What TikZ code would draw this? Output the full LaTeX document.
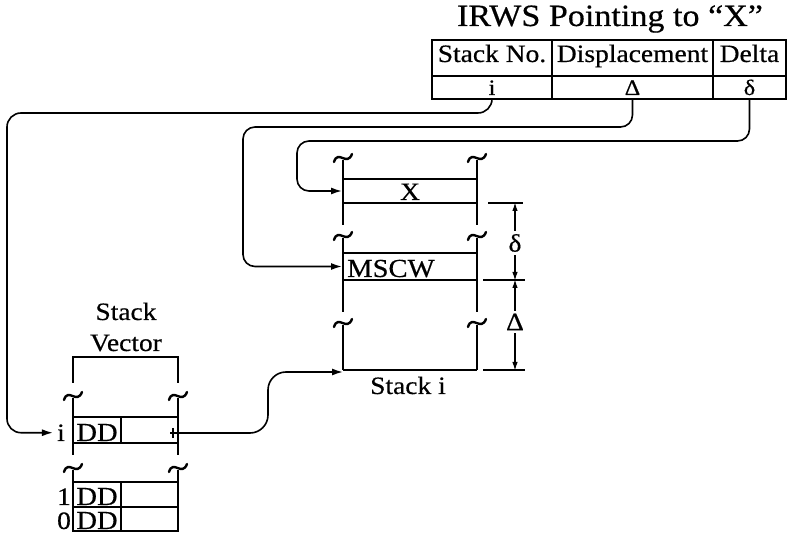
\documentclass[tikz,border=0pt]{standalone}
\usepackage{fontspec}
\setmainfont{Liberation Serif}[FakeStretch=1.1,FakeBold=0.5]
\usetikzlibrary{arrows.meta}
\begin{document}
\begin{tikzpicture}[x=1pt,y=-1pt,
  every node/.style={font=\fontsize{25}{29}\selectfont, inner sep=0pt},
  wall/.style={line width=2pt},
  cell/.style={draw, line width=2pt, inner sep=0pt},
  conn/.style={line width=1.6pt, rounded corners=12pt, -{Latex[length=11pt,width=7pt]}},
  dim/.style={line width=1.5pt, -{Latex[length=9pt,width=5.5pt]}},
  tld/.pic={\draw[line width=2.4pt, line cap=round] (-9,4) .. controls (-5,-9) and (4,9) .. (9,-4);}
]
\useasboundingbox (0,0) rectangle (788,534);

% ---------- IRWS table ----------
\node[font=\fontsize{31}{36}\selectfont, anchor=base] (title) at (610,26) {IRWS Pointing to “X”};
\node[cell, minimum width=120pt, minimum height=36pt, text height=12pt, text depth=4pt] (h1) at (492,58) {Stack No.};
\node[cell, minimum width=161pt, minimum height=36pt, text height=12pt, text depth=4pt] (h2) at (632.5,58) {Displacement};
\node[cell, minimum width=73pt, minimum height=36pt, text height=12pt, text depth=4pt] (h3) at (749.5,58) {Delta};
\node[cell, font=\fontsize{22}{26}\selectfont, minimum width=120pt, minimum height=23pt, text height=15pt, text depth=0pt] (c1) at (492,87.5) {i};
\node[cell, font=\fontsize{22}{26}\selectfont, minimum width=161pt, minimum height=23pt, text height=15pt, text depth=0pt] (c2) at (632.5,87.5) {Δ};
\node[cell, font=\fontsize{22}{26}\selectfont, minimum width=73pt, minimum height=23pt, text height=15pt, text depth=0pt] (c3) at (749.5,87.5) {δ};

% ---------- Stack i ----------
\foreach \x in {343,477}{
  \pic at (\x,158) {tld};
  \draw[wall] (\x,160) -- (\x,225);
  \pic at (\x,236) {tld};
  \draw[wall] (\x,238) -- (\x,312);
  \pic at (\x,323) {tld};
  \draw[wall] (\x,325) -- (\x,370);
}
\node[cell, minimum width=134pt, minimum height=24pt, text height=18pt, text depth=0pt] (xrow) at (410,191) {X};
\node[cell, minimum width=134pt, minimum height=27pt] (mscw) at (410,266.5) {};
\node[anchor=base west, font=\fontsize{26}{30}\selectfont] (mtext) at (347,277) {MSCW};
\coordinate (sbl) at (343,372);
\coordinate (sbr) at (477,370);
\draw[wall] (343,370) -- (sbr);
\node[anchor=base] (stki) at (408,394) {Stack i};

% dimensions
\coordinate (e1) at (515,203);
\coordinate (e2) at (515,280);
\coordinate (e3) at (515,370);
\draw[line width=1.5pt] (488,203) -- (523,203);
\draw[line width=1.5pt] (483,280) -- (525,280);
\draw[line width=1.5pt] (483,370) -- (525,370);
\node[inner sep=3pt] (dl) at (515,243) {δ};
\node[inner sep=3pt] (DL) at (515,322) {Δ};
\draw[dim] (dl.north) -- ([yshift=1pt]e1);
\draw[dim] (dl.south) -- ([yshift=-1pt]e2);
\draw[dim] (DL.north) -- ([yshift=1pt]e2);
\draw[dim] (DL.south) -- ([yshift=-1pt]e3);

% ---------- Stack Vector ----------
\node[anchor=base] (svl1) at (126,320) {Stack};
\node[anchor=base] (svl2) at (126,351) {Vector};
\draw[wall] (73,383) -- (73,357) -- (178,357) -- (178,383);
\foreach \x in {73,178}{
  \pic at (\x,396) {tld};
  \draw[wall] (\x,398) -- (\x,455);
  \pic at (\x,468) {tld};
  \draw[wall] (\x,470) -- (\x,531);
}
\node[cell, minimum width=105pt, minimum height=26pt] (svi) at (125.5,430) {};
\node[cell, font=\fontsize{26}{30}\selectfont, minimum width=48pt, minimum height=26pt, text height=22pt, text depth=0pt] (ddi) at (97,430) {DD};
\node[cell, minimum width=105pt, minimum height=25pt] (sv1) at (125.5,494.5) {};
\node[cell, font=\fontsize{26}{30}\selectfont, minimum width=48pt, minimum height=25pt, text height=21pt, text depth=0pt] (dd1) at (97,494.5) {DD};
\node[cell, minimum width=105pt, minimum height=24pt] (sv0) at (125.5,519) {};
\node[cell, font=\fontsize{26}{30}\selectfont, minimum width=48pt, minimum height=24pt, text height=20pt, text depth=0pt] (dd0) at (97,519) {DD};
\node[anchor=base, inner xsep=4pt] (ilab) at (61,441) {i};
\node[anchor=base] (one) at (64,505) {1};
\node[anchor=base] (zero) at (64,529) {0};
\coordinate (svp) at (170,433);
\draw[line width=1.4pt] (173,428) -- (173,438);

% ---------- connectors ----------
\draw[conn, rounded corners=14pt] (c1.south) |- (7,113) |- (ilab.west);
\draw[conn] (c2.south) |- (243,127) |- (mscw.west);
\draw[conn] (c3.south) |- (297,141) |- (xrow.west);
\draw[conn, rounded corners=18pt] (svp) -| (268,372) -- (sbl);
\end{tikzpicture}
\end{document}
